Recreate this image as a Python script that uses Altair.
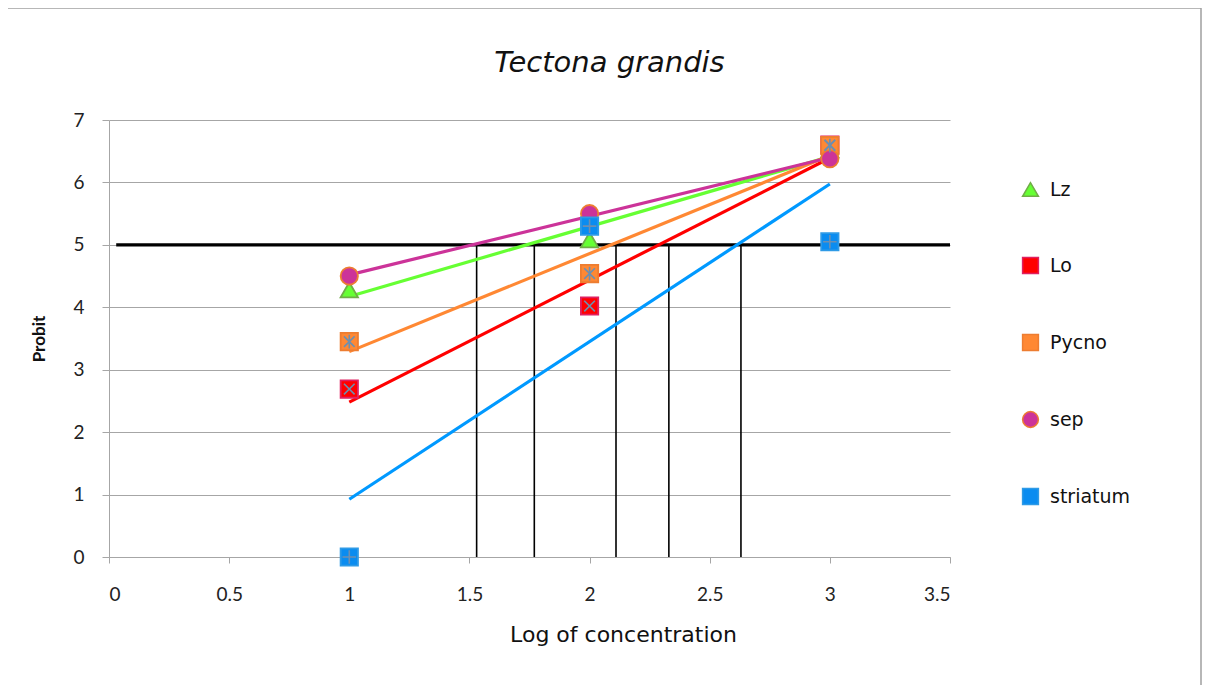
import altair as alt
import pandas as pd

# ---- data ----
conc = [1, 2, 3]
lz = [4.28, 5.08, 6.52]
lo = [2.69, 4.02, 6.60]
pycno = [3.45, 4.54, 6.59]
sep = [4.50, 5.50, 6.38]
striatum = [0.0, 5.30, 5.05]
series_names = ["Lz", "Lo", "Pycno", "sep", "striatum"]
lc50 = [1.53, 1.77, 2.11, 2.33, 2.63]
probit_ref = 5
ref_x = [0.03, 3.5]

line_colors = ["#66ff33", "#ff0000", "#ff8833", "#cc3399", "#0099ff"]
fill_colors = ["#66ff33", "#ff0000", "#ff8833", "#cc3399", "#0a8cf0"]
stroke_colors = ["#70ad47", "#e02060", "#ed7d31", "#ed7d31", "#2e9ae6"]
shapes = ["triangle-up", "square", "square", "circle", "square"]

rows = []
for name, vals in zip(series_names, [lz, lo, pycno, sep, striatum]):
    for c, v in zip(conc, vals):
        rows.append({"series": name, "x": c, "y": v})
df = pd.DataFrame(rows)

FONT = "Lato"
LFONT = "DejaVu Sans"

xs = alt.Scale(domain=[0, 3.5], nice=False)
ys = alt.Scale(domain=[0, 7], nice=False)

x_axis = alt.Axis(values=[0, 0.5, 1, 1.5, 2, 2.5, 3, 3.5], format="~g", grid=False,
                  title="Log   of   concentration", labelFontSize=19, titleFontSize=22,
                  titleFontWeight="normal", labelFont=FONT, titleFont=LFONT,
                  labelPadding=22, titlePadding=20, tickSize=6, tickColor="#a6a6a6",
                  domainColor="#a6a6a6", labelColor="#222", titleColor="#111",
                  titleX=514, titleAlign="center", titleAnchor="start")
y_axis = alt.Axis(values=list(range(8)), format="d", grid=True, gridColor="#a6a6a6", title="Probit",
                  labelFontSize=19, titleFontSize=17, titleFontWeight="bold",
                  labelFont=FONT, titleFont=FONT, labelPadding=18, titlePadding=24,
                  tickSize=7, tickColor="#a6a6a6", domainColor="#a6a6a6",
                  labelColor="#222", titleColor="#111")

base = alt.Chart(df)

border = alt.Chart(alt.Data(values=[{"a": 1}])).mark_rect(
    fillOpacity=0, stroke="#a0a0a0", strokeWidth=1.5
).encode(x=alt.value(-103), x2=alt.value(1092), y=alt.value(-112), y2=alt.value(572))

vlines = alt.Chart(pd.DataFrame({"lc": lc50})).mark_rule(color="black", strokeWidth=1.6).encode(
    x=alt.X("lc:Q", scale=xs, axis=x_axis),
    y=alt.datum(0, scale=ys),
    y2=alt.datum(probit_ref),
)

hline = alt.Chart(pd.DataFrame({"x0": [ref_x[0]], "x1": [ref_x[1]], "y": [probit_ref]})).mark_rule(
    color="black", strokeWidth=3.2
).encode(x=alt.X("x0:Q", scale=xs), x2="x1:Q", y=alt.Y("y:Q", scale=ys))

trend = base.transform_regression("x", "y", groupby=["series"], extent=[1, 3]).mark_line(
    strokeWidth=3.2
).encode(
    x=alt.X("x:Q", scale=xs),
    y=alt.Y("y:Q", scale=ys),
    color=alt.Color("series:N", scale=alt.Scale(domain=series_names, range=line_colors), legend=None),
    detail="series:N",
)

leg = alt.Legend(title=None, orient="none", legendX=912, legendY=60, labelFont=LFONT,
                 labelFontSize=19, labelColor="#111", symbolSize=250, rowPadding=54,
                 labelOffset=10, symbolStrokeWidth=1.5)

points = base.mark_point(filled=True, size=300, strokeWidth=1.8, opacity=1).encode(
    x=alt.X("x:Q", scale=xs, axis=x_axis),
    y=alt.Y("y:Q", scale=ys, axis=y_axis),
    shape=alt.Shape("series:N", scale=alt.Scale(domain=series_names, range=shapes), legend=leg),
    fill=alt.Fill("series:N", scale=alt.Scale(domain=series_names, range=fill_colors), legend=leg),
    stroke=alt.Stroke("series:N", scale=alt.Scale(domain=series_names, range=stroke_colors), legend=leg),
)

cross_shapes = {"Lo": "M-0.7,-0.7L0.7,0.7M-0.7,0.7L0.7,-0.7",
                "Pycno": "M-0.7,-0.7L0.7,0.7M-0.7,0.7L0.7,-0.7M0,-0.9L0,0.9",
                "striatum": "M-0.9,0L0.9,0M0,-0.9L0,0.9"}
cross_layers = []
for name, path in cross_shapes.items():
    cross_layers.append(
        base.transform_filter(alt.datum.series == name).mark_point(
            filled=False, size=230, strokeWidth=1.6, shape=path, color="#6d8fb0", opacity=1
        ).encode(x=alt.X("x:Q", scale=xs), y=alt.Y("y:Q", scale=ys))
    )

chart = alt.layer(border, vlines, hline, trend, points, *cross_layers).resolve_legend(
    fill="independent", shape="independent", stroke="independent"
).properties(
    width=841, height=437,
    title=alt.TitleParams("Tectona grandis", font=LFONT, fontSize=29, fontStyle="italic",
                          fontWeight="normal", color="#111", anchor="middle", dx=80, offset=0, dy=71),
    autosize=alt.AutoSizeParams(type="none"),
    padding={"left": 101, "top": 112, "right": 252, "bottom": 128},
).configure_view(stroke=None)

chart.save("out.html", embed_options={"renderer": "svg", "actions": False})
